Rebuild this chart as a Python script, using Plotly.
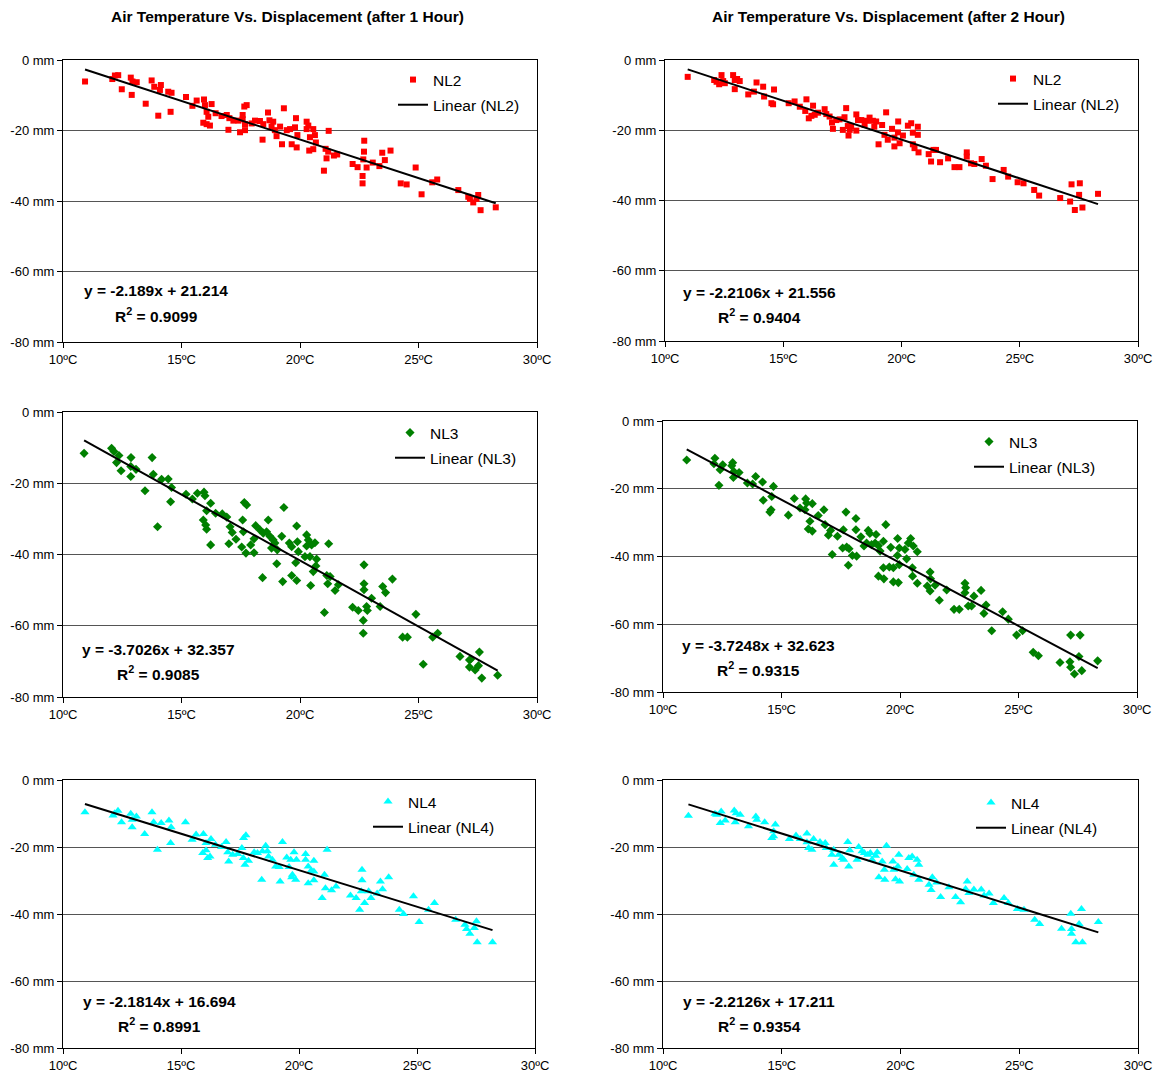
import plotly.graph_objects as go

# ---------------- DATA ----------------
titles = ["Air Temperature Vs. Displacement (after 1 Hour)",
          "Air Temperature Vs. Displacement (after 2 Hour)"]
series_names = ["NL2", "NL2", "NL3", "NL3", "NL4", "NL4"]
slopes = [-2.189, -2.2106, -3.7026, -3.7248, -2.1814, -2.2126]
intercepts = [21.214, 21.556, 32.357, 32.623, 16.694, 17.211]
r2_values = ["0.9099", "0.9404", "0.9085", "0.9315", "0.8991", "0.9354"]
eq_texts = ["y = -2.189x + 21.214", "y = -2.2106x + 21.556",
            "y = -3.7026x + 32.357", "y = -3.7248x + 32.623",
            "y = -2.1814x + 16.694", "y = -2.2126x + 17.211"]
x_tick_vals = [10, 15, 20, 25, 30]
x_tick_text = ["10ºC", "15ºC", "20ºC", "25ºC", "30ºC"]
y_tick_vals = [0, -20, -40, -60, -80]
y_tick_text = ["0 mm", "-20 mm", "-40 mm", "-60 mm", "-80 mm"]

temp_1h_nl2 = [10.93, 12.08, 12.19, 12.33, 12.48, 12.86, 12.93, 13.11, 12.9, 13.49, 13.74, 13.85, 14.13, 14.09,
               14.02, 14.44, 14.58, 14.54, 15.19, 15.46, 15.64, 15.95, 15.99, 16.27, 16.06, 16.13, 15.92, 16.06,
               16.2, 16.44, 16.69, 16.91, 17.02, 17.19, 17.4, 17.58, 17.65, 17.75, 17.58, 17.68, 16.98, 17.47,
               17.68, 17.96, 18.1, 18.31, 18.45, 18.65, 18.71, 18.8, 18.94, 19.01, 18.87, 19.32, 19.16, 19.44,
               19.58, 19.79, 19.83, 19.89, 19.65, 19.86, 19.24, 18.42, 20.28, 20.35, 20.28, 20.42, 20.56, 20.63,
               20.39, 20.56, 20.67, 21.21, 21.08, 21.19, 21.12, 21.43, 21.57, 21.01, 22.22, 22.43, 22.67, 22.7,
               22.71, 22.81, 22.64, 22.64, 23.07, 23.35, 23.47, 23.58, 23.82, 24.25, 24.5, 24.88, 25.13, 25.58,
               25.79, 26.68, 27.1, 27.17, 27.31, 27.52, 27.45, 27.62, 28.26]
disp_1h_nl2 = [-6.1, -5.4, -4.4, -4.3, -8.3, -5.0, -6.1, -6.3, -9.9, -12.4, -5.8, -7.6, -7.1, -8.5,
               -15.8, -9.0, -9.3, -14.7, -10.5, -13.0, -11.5, -11.2, -12.8, -12.5, -14.7, -16.1, -17.8, -18.2,
               -18.6, -15.1, -15.9, -15.6, -16.5, -17.2, -17.2, -15.6, -13.2, -12.8, -16.8, -18.2, -19.8, -20.5,
               -19.9, -18.0, -17.2, -17.3, -18.2, -14.9, -17.1, -18.9, -19.9, -21.6, -17.5, -13.7, -18.9, -19.9,
               -19.6, -19.1, -16.5, -21.3, -23.9, -24.8, -23.9, -22.6, -17.5, -18.6, -19.6, -21.9, -19.6, -21.3,
               -25.7, -25.3, -23.4, -20.1, -25.2, -26.0, -27.9, -27.1, -26.8, -31.4, -29.5, -30.4, -28.2, -26.0,
               -22.9, -30.5, -32.9, -35.0, -29.1, -30.1, -26.3, -28.4, -25.7, -35.0, -35.3, -30.5, -38.1, -34.7,
               -33.9, -36.9, -38.8, -39.4, -40.4, -38.3, -39.4, -42.6, -41.8]

temp_2h_nl2 = [10.96, 12.08, 12.18, 12.29, 12.39, 12.46, 12.53, 12.88, 12.95, 12.95, 13.16, 13.05, 13.52, 13.76,
               13.87, 14.15, 14.19, 14.61, 14.5, 14.57, 15.23, 15.48, 15.7, 15.98, 15.93, 16.08, 16.26, 16.19,
               16.33, 16.47, 16.75, 16.82, 16.96, 17.06, 17.1, 17.24, 17.38, 17.52, 17.59, 17.66, 17.73, 17.81,
               17.76, 17.87, 18.09, 18.16, 18.09, 18.3, 18.44, 18.54, 18.65, 18.79, 18.93, 18.85, 19.03, 19.18,
               19.35, 19.28, 19.42, 19.6, 19.7, 19.7, 19.86, 19.85, 19.92, 20.06, 20.27, 20.41, 20.48, 20.69,
               20.69, 20.48, 20.55, 20.72, 21.15, 21.25, 21.35, 21.46, 21.63, 21.97, 22.24, 22.45, 22.76, 22.76,
               22.94, 23.08, 23.39, 23.57, 23.85, 24.32, 24.51, 24.91, 25.16, 25.61, 25.82, 26.71, 27.13, 27.19,
               27.54, 27.51, 27.33, 27.65, 28.31]
disp_2h_nl2 = [-4.8, -5.7, -6.2, -6.9, -4.3, -6.0, -6.6, -4.3, -5.7, -8.3, -6.0, -5.4, -9.8, -9.0,
               -6.4, -7.6, -10.4, -8.4, -12.3, -12.6, -12.3, -11.8, -13.3, -11.2, -14.5, -16.6, -13.0, -15.9,
               -15.6, -15.0, -14.0, -15.4, -16.1, -17.8, -19.6, -17.1, -16.9, -19.9, -16.3, -13.7, -18.8, -19.9,
               -21.5, -19.0, -15.5, -17.1, -20.1, -17.1, -18.5, -17.3, -16.4, -17.3, -17.5, -19.0, -24.0, -18.5,
               -14.9, -21.3, -22.7, -19.6, -22.1, -24.6, -17.5, -20.6, -23.7, -21.5, -18.7, -18.0, -20.7, -19.0,
               -21.3, -24.0, -25.1, -26.3, -26.8, -28.9, -25.6, -25.6, -29.1, -28.0, -30.5, -30.5, -26.3, -27.5,
               -29.4, -29.6, -28.2, -30.1, -33.9, -31.3, -33.2, -34.8, -35.1, -37.0, -38.6, -39.3, -40.3, -35.4,
               -35.1, -38.4, -42.7, -42.0, -38.1]

temp_1h_nl3 = [10.89, 12.05, 12.15, 12.36, 12.26, 12.45, 12.87, 12.86, 12.86, 13.08, 13.46, 13.76, 13.81, 13.99,
               14.16, 14.44, 14.58, 14.54, 15.19, 15.46, 15.67, 15.95, 15.99, 16.23, 16.06, 15.92, 16.02, 16.06,
               16.23, 16.44, 16.72, 16.91, 17.05, 17.14, 17.3, 17.0, 17.58, 17.65, 17.75, 17.61, 17.54, 17.72,
               17.92, 18.06, 18.06, 18.13, 18.31, 18.45, 18.42, 18.66, 18.59, 18.73, 18.87, 18.8, 18.94, 19.04,
               19.23, 19.02, 19.27, 19.32, 19.55, 19.65, 19.86, 19.89, 19.93, 19.82, 19.65, 19.86, 20.28, 20.35,
               20.28, 20.49, 20.63, 20.21, 20.42, 20.7, 20.67, 20.56, 20.45, 21.21, 21.13, 21.27, 21.17, 21.62,
               21.48, 21.03, 22.22, 22.46, 22.7, 22.7, 22.7, 22.81, 22.84, 22.67, 22.67, 23.02, 23.38, 23.49,
               23.61, 23.9, 24.33, 24.53, 24.89, 25.2, 25.6, 25.81, 26.75, 27.15, 27.2, 27.15, 27.39, 27.57,
               27.53, 27.67, 28.34]
disp_1h_nl3 = [-11.6, -10.2, -11.1, -12.2, -14.2, -16.5, -12.8, -15.3, -18.1, -16.1, -22.1, -12.8, -17.5, -32.2,
               -18.9, -18.8, -21.2, -25.2, -23.1, -24.4, -22.8, -22.5, -23.5, -25.6, -27.7, -30.3, -31.7, -32.9,
               -37.3, -28.4, -28.6, -29.5, -32.2, -33.8, -35.7, -37.0, -30.3, -25.4, -26.1, -33.6, -37.9, -39.6,
               -37.3, -35.6, -39.5, -31.9, -33.1, -34.0, -46.5, -30.3, -33.6, -34.9, -35.9, -38.2, -36.8, -38.7,
               -34.9, -42.6, -47.6, -26.8, -36.8, -37.8, -32.0, -36.4, -39.2, -42.3, -45.9, -47.3, -34.5, -35.9,
               -37.6, -37.3, -36.7, -40.6, -40.6, -41.3, -43.2, -44.8, -48.7, -37.0, -45.9, -46.2, -48.2, -48.5,
               -50.1, -56.3, -54.8, -55.7, -42.9, -48.2, -49.9, -54.6, -55.7, -58.5, -62.1, -52.3, -54.6, -49.0,
               -50.7, -46.9, -63.2, -63.2, -56.8, -70.8, -63.2, -62.1, -68.6, -69.6, -69.4, -71.6, -72.4, -67.4,
               -71.2, -74.7, -73.9]

temp_2h_nl3 = [11.0, 12.19, 12.15, 12.41, 12.36, 12.52, 12.94, 12.9, 12.99, 12.97, 13.21, 13.56, 13.78, 13.91,
               14.2, 14.23, 14.66, 14.59, 14.56, 14.51, 15.29, 15.54, 15.78, 16.02, 16.06, 16.3, 15.99, 16.2,
               16.13, 16.3, 16.55, 16.79, 16.84, 17.07, 16.98, 17.14, 17.36, 17.61, 17.72, 17.58, 17.75, 17.85,
               17.82, 18.14, 18.14, 18.35, 18.48, 17.99, 18.17, 18.66, 18.73, 18.59, 18.8, 18.99, 18.95, 19.09,
               19.16, 19.3, 19.4, 19.61, 19.9, 19.89, 19.97, 19.97, 19.3, 19.55, 19.72, 19.09, 19.32, 19.72,
               19.93, 20.21, 20.28, 20.35, 20.45, 20.56, 20.73, 20.52, 20.53, 20.73, 21.27, 21.29, 21.15, 21.48,
               21.27, 21.66, 21.97, 22.28, 22.5, 22.74, 22.77, 22.74, 23.12, 22.88, 23.02, 23.42, 23.63, 23.54,
               23.87, 24.33, 24.57, 24.92, 25.17, 25.62, 25.84, 26.75, 27.17, 27.2, 27.6, 27.55, 27.2, 27.36,
               27.67, 28.34]
disp_2h_nl3 = [-11.5, -11.0, -12.6, -14.4, -19.0, -12.9, -12.3, -13.2, -14.9, -16.7, -15.2, -18.3, -18.6, -16.4,
               -18.0, -23.4, -19.3, -22.3, -26.2, -26.9, -27.8, -22.9, -25.7, -23.0, -24.2, -24.4, -26.2, -29.6,
               -31.9, -32.5, -27.9, -26.2, -30.6, -32.3, -33.7, -39.4, -34.0, -32.1, -26.9, -37.5, -37.2, -37.7,
               -42.6, -28.8, -32.1, -34.2, -36.9, -39.7, -39.9, -32.3, -33.2, -36.0, -36.5, -33.5, -36.0, -36.8,
               -38.4, -35.5, -30.6, -37.3, -34.7, -39.7, -37.5, -42.4, -43.3, -43.1, -43.3, -45.8, -46.6, -47.5,
               -47.7, -37.9, -40.7, -36.0, -34.7, -36.9, -38.6, -43.3, -45.8, -47.9, -44.6, -46.6, -48.7, -48.5,
               -50.2, -52.9, -49.9, -55.6, -55.6, -47.9, -49.2, -50.7, -51.7, -54.6, -54.6, -50.0, -54.3, -56.8,
               -61.9, -56.3, -58.5, -63.2, -61.9, -68.3, -69.3, -71.3, -71.1, -63.2, -63.2, -69.5, -72.7, -74.7,
               -73.7, -70.8]

temp_1h_nl4 = [10.93, 12.12, 12.19, 12.33, 12.48, 12.87, 12.93, 12.93, 13.11, 13.46, 13.77, 13.84, 14.16, 14.49,
               14.58, 14.56, 14.0, 15.19, 15.47, 15.64, 15.95, 16.06, 16.27, 15.92, 16.06, 16.13, 16.23, 16.46,
               16.72, 16.91, 16.98, 17.02, 17.19, 17.4, 17.58, 17.65, 17.75, 17.64, 17.71, 17.86, 18.1, 18.24,
               18.45, 18.59, 18.66, 18.71, 18.87, 19.01, 19.16, 18.42, 19.3, 19.2, 19.48, 19.65, 19.79, 19.89,
               19.58, 19.72, 19.86, 19.69, 20.28, 20.28, 20.39, 20.52, 20.63, 20.63, 20.39, 20.63, 21.19, 21.08,
               21.12, 20.98, 21.38, 21.57, 22.18, 22.42, 22.67, 22.67, 22.64, 22.78, 22.57, 22.95, 23.05, 23.31,
               23.45, 23.54, 23.8, 24.25, 24.43, 24.85, 25.09, 25.49, 25.74, 26.64, 27.03, 27.1, 27.24, 27.43,
               27.52, 27.55, 28.2]
disp_1h_nl4 = [-9.6, -10.6, -9.9, -9.2, -12.6, -10.1, -11.9, -14.1, -10.9, -16.1, -9.6, -12.6, -12.8, -12.1,
               -14.1, -18.8, -20.8, -12.6, -17.8, -16.3, -16.1, -18.8, -17.6, -21.8, -21.0, -23.3, -22.8, -19.3,
               -20.0, -18.5, -21.6, -24.3, -22.3, -22.1, -20.3, -17.3, -16.5, -23.3, -25.3, -24.1, -21.6, -21.8,
               -21.3, -19.6, -21.3, -22.8, -23.8, -25.8, -26.0, -29.8, -18.5, -30.3, -23.1, -23.8, -21.6, -23.8,
               -26.0, -28.3, -29.8, -29.0, -22.1, -23.8, -25.8, -27.0, -24.1, -27.3, -30.8, -29.9, -20.8, -28.3,
               -32.3, -35.2, -32.9, -31.8, -34.5, -35.2, -26.8, -29.9, -33.2, -36.7, -38.7, -33.2, -35.2, -33.9,
               -30.3, -32.6, -29.0, -38.7, -40.0, -34.7, -42.4, -38.7, -36.7, -41.7, -43.2, -44.5, -45.9, -44.2,
               -42.2, -48.4, -48.4]

temp_2h_nl4 = [11.07, 12.19, 12.26, 12.45, 12.41, 12.62, 13.0, 13.08, 13.04, 13.25, 13.6, 13.91, 13.95, 14.28,
               14.73, 14.66, 14.58, 14.66, 15.32, 15.6, 15.78, 16.06, 16.06, 16.13, 16.27, 16.34, 16.61, 16.83,
               16.87, 17.11, 17.19, 17.19, 17.4, 17.54, 17.61, 17.78, 17.82, 17.86, 18.17, 18.24, 18.38, 18.48,
               18.62, 18.73, 18.8, 18.95, 19.02, 19.09, 19.23, 19.32, 19.34, 19.41, 19.68, 19.72, 19.79, 19.93,
               19.96, 19.89, 20.28, 20.35, 20.49, 20.56, 20.7, 20.77, 20.77, 21.2, 21.34, 21.29, 21.52, 21.69,
               22.04, 22.32, 22.53, 22.81, 22.74, 22.88, 23.09, 23.4, 23.52, 23.73, 23.91, 24.36, 24.54, 24.92,
               25.2, 25.65, 25.86, 26.78, 27.17, 27.2, 27.2, 27.52, 27.62, 27.38, 27.66, 28.33]
disp_2h_nl4 = [-10.7, -10.1, -10.4, -9.4, -12.8, -12.1, -9.1, -9.9, -12.6, -10.4, -13.8, -10.9, -11.9, -12.6,
               -13.3, -15.3, -17.3, -16.8, -17.6, -16.6, -17.6, -16.0, -18.6, -20.3, -20.8, -17.6, -18.5, -18.8,
               -20.3, -22.3, -20.8, -25.3, -22.3, -23.3, -23.8, -18.5, -25.8, -21.0, -23.8, -20.0, -21.3, -21.8,
               -22.3, -21.8, -23.8, -22.6, -21.6, -29.0, -24.3, -26.8, -29.8, -19.6, -24.3, -26.8, -29.6, -22.3,
               -30.3, -25.8, -26.6, -23.3, -22.8, -28.3, -23.8, -25.3, -29.8, -31.3, -29.0, -32.8, -30.6, -34.9,
               -32.0, -34.9, -36.5, -30.3, -32.5, -33.7, -32.7, -32.7, -34.5, -33.9, -36.7, -35.2, -36.7, -38.5,
               -38.7, -41.7, -43.0, -44.4, -39.9, -44.5, -45.9, -43.0, -38.5, -48.4, -48.4, -42.4]

temps = [temp_1h_nl2, temp_2h_nl2, temp_1h_nl3, temp_2h_nl3, temp_1h_nl4, temp_2h_nl4]
disps = [disp_1h_nl2, disp_2h_nl2, disp_1h_nl3, disp_2h_nl3, disp_1h_nl4, disp_2h_nl4]

# ---------------- STYLE / LAYOUT ----------------
W, H = 1160, 1077
FONT = "Liberation Sans, Arial, sans-serif"
colors = ["#FF0000", "#FF0000", "#008000", "#008000", "#00FFFF", "#00FFFF"]
symbols = ["square", "square", "diamond", "diamond", "triangle-up", "triangle-up"]
msizes = [6, 6, 7, 7, 8, 8]

# plot areas in pixels: (left, right, top, bottom)
boxes = [(63, 537, 60, 342), (665, 1138, 60, 341),
         (63, 537, 412, 697), (663, 1137, 421, 692),
         (63, 535, 780, 1048), (663, 1138, 780, 1048)]
# legend text-left x and first-row center y (pixels)
legend_pos = [(435, 75), (1035, 74), (432, 428), (1011, 437), (410, 797), (1013, 798)]
# equation centre x and first-line y (pixels)
eq_pos = [(156, 291), (759, 292), (158, 649), (758, 645), (159, 1001), (759, 1001)]

def px(x):
    return x / W

def py(y):
    return 1 - y / H

fig = go.Figure()
layout = dict(width=W, height=H, margin=dict(l=0, r=0, t=0, b=0, autoexpand=False),
              paper_bgcolor="white", plot_bgcolor="white",
              font=dict(family=FONT, size=12, color="black"),
              showlegend=True, annotations=[])

for i in range(6):
    n = i + 1
    xa = "x" if n == 1 else f"x{n}"
    ya = "y" if n == 1 else f"y{n}"
    lg = "legend" if n == 1 else f"legend{n}"
    L, R, T, B = boxes[i]
    layout["xaxis" if n == 1 else f"xaxis{n}"] = dict(
        domain=[px(L), px(R)], anchor=ya, range=[10, 30], automargin=False,
        tickvals=x_tick_vals, ticktext=x_tick_text, ticks="outside", ticklen=5,
        tickcolor="black", showline=True, linecolor="black", linewidth=1, mirror=True,
        showgrid=False, zeroline=False, tickfont=dict(size=13, family=FONT))
    layout["yaxis" if n == 1 else f"yaxis{n}"] = dict(
        domain=[py(B), py(T)], anchor=xa, range=[-80, 0], automargin=False,
        tickvals=y_tick_vals, ticktext=y_tick_text, ticks="outside", ticklen=5,
        tickcolor="black", showline=True, linecolor="black", linewidth=1, mirror=True,
        showgrid=True, gridcolor="#555555", gridwidth=1, zeroline=False,
        tickfont=dict(size=13, family=FONT))

    fig.add_trace(go.Scatter(
        x=temps[i], y=disps[i], mode="markers", name=series_names[i],
        marker=dict(symbol=symbols[i], size=msizes[i], color=colors[i], line=dict(width=0)),
        xaxis=xa, yaxis=ya, legend=lg, legendgroup=f"a{n}"))
    x0, x1 = min(temps[i]), max(temps[i])
    fig.add_trace(go.Scatter(
        x=[x0, x1], y=[slopes[i] * x0 + intercepts[i], slopes[i] * x1 + intercepts[i]],
        mode="lines", name=f"Linear ({series_names[i]})",
        line=dict(color="black", width=2),
        xaxis=xa, yaxis=ya, legend=lg, legendgroup=f"b{n}"))

    tx, ty = legend_pos[i]
    layout[lg] = dict(x=px(tx - 42), y=py(ty - 12), xanchor="left", yanchor="top",
                      bgcolor="rgba(0,0,0,0)", borderwidth=0, tracegroupgap=2,
                      font=dict(size=15.5, family=FONT, color="black"))

    ex, ey = eq_pos[i]
    layout["annotations"].append(dict(
        text=f"<b>{eq_texts[i]}</b>", x=px(ex), y=py(ey), xref="paper", yref="paper",
        xanchor="center", yanchor="middle", showarrow=False,
        font=dict(size=15.5, family=FONT, color="black")))
    layout["annotations"].append(dict(
        text=f"<b>R<sup>2</sup> = {r2_values[i]}</b>", x=px(ex), y=py(ey + 24),
        xref="paper", yref="paper", xanchor="center", yanchor="middle", showarrow=False,
        font=dict(size=15.5, family=FONT, color="black")))

for j, t in enumerate(titles):
    layout["annotations"].append(dict(
        text=f"<b>{t}</b>", x=px([287, 889][j]), y=py(16), xref="paper", yref="paper",
        xanchor="center", yanchor="middle", showarrow=False,
        font=dict(size=15.5, family=FONT, color="black")))

fig.update_layout(**layout)
fig.write_html("out.html", config={"displayModeBar": False},
               post_script="document.body.style.margin='0';document.body.style.overflow='hidden';")
